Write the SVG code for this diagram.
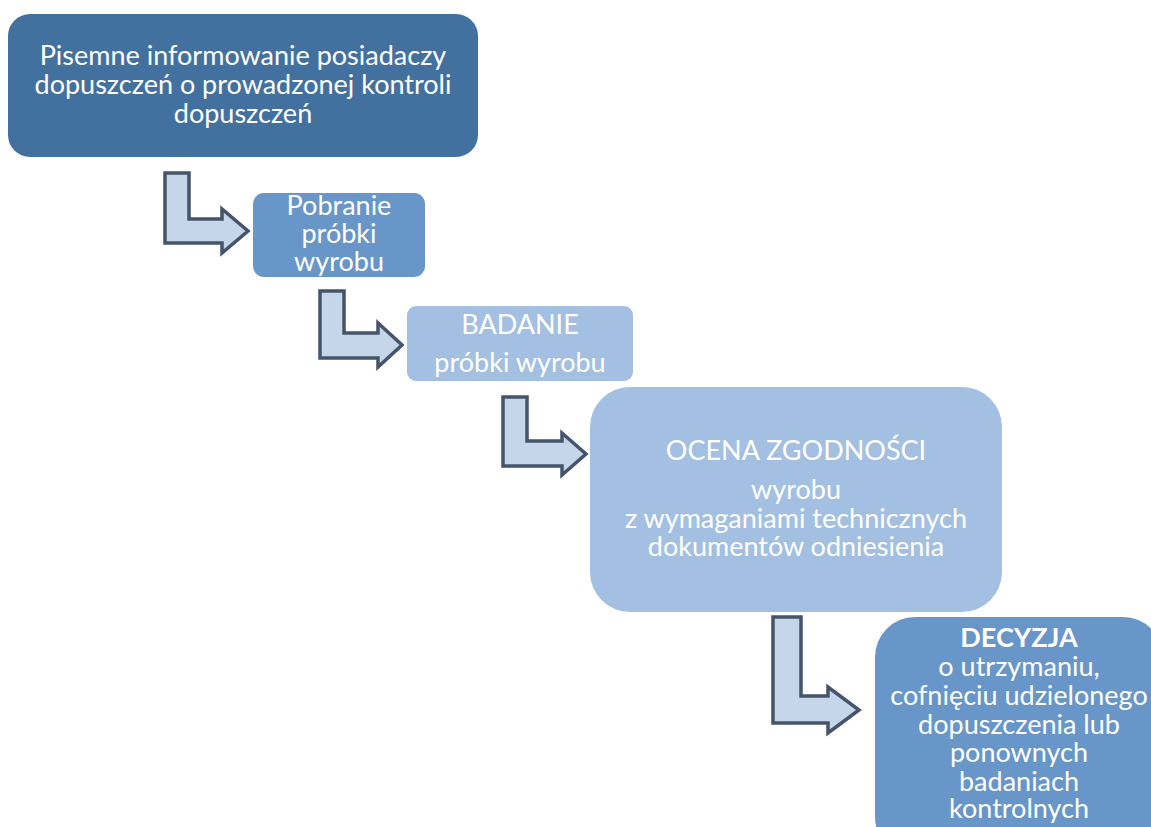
<svg xmlns="http://www.w3.org/2000/svg" width="1151" height="827" viewBox="0 0 1151 827">
<style>
.t{font-family:Lato,"Open Sans","Liberation Sans",sans-serif;font-size:27px;fill:#ffffff;text-anchor:middle}
.b{font-weight:bold}
.arr{fill:#C5D5EA;stroke:#44546A;stroke-width:3.5;stroke-linejoin:miter}
</style>
<rect width="1151" height="827" fill="#ffffff"/>
<g id="connectors">
<path class="arr" d="M165,173 H189 V219 H222 V209 L248,231 L222,253 V243 H165 Z"/>
<path class="arr" d="M320,291 H344 V333 H378 V323 L402,345 L378,367 V358 H320 Z"/>
<path class="arr" d="M503,397 H527 V441 H562 V433 L586,454 L562,475 V466 H503 Z"/>
<path class="arr" d="M773,617 H801 V696 H828 V687 L859,710 L828,733 V723 H773 Z"/>
</g>
<g id="node1">
<rect x="8" y="14" width="470" height="143" rx="22" fill="#43719F"/>
<text class="t" x="243" y="65">Pisemne informowanie posiadaczy</text>
<text class="t" x="243" y="94">dopuszczeń o prowadzonej kontroli</text>
<text class="t" x="243" y="123">dopuszczeń</text>
</g>
<g id="node2">
<rect x="253" y="193" width="172" height="84" rx="11" fill="#6996C8"/>
<text class="t" x="339" y="215">Pobranie</text>
<text class="t" x="339" y="243">próbki</text>
<text class="t" x="339" y="271">wyrobu</text>
</g>
<g id="node3">
<rect x="407" y="306" width="226" height="75" rx="9" fill="#A3BFE1"/>
<text class="t" x="520" y="334">BADANIE</text>
<text class="t" x="520" y="372">próbki wyrobu</text>
</g>
<g id="node4">
<rect x="590" y="387" width="412" height="225" rx="40" fill="#A3BFE1"/>
<text class="t" x="796" y="460">OCENA ZGODNOŚCI</text>
<text class="t" x="796" y="499">wyrobu</text>
<text class="t" x="796" y="528">z wymaganiami technicznych</text>
<text class="t" x="796" y="556">dokumentów odniesienia</text>
</g>
<g id="node5">
<rect x="875" y="617" width="288" height="240" rx="40" fill="#6996C8"/>
<text class="t b" x="1019" y="647">DECYZJA</text>
<text class="t" x="1019" y="676">o utrzymaniu,</text>
<text class="t" x="1019" y="705">cofnięciu udzielonego</text>
<text class="t" x="1019" y="734">dopuszczenia lub</text>
<text class="t" x="1019" y="762">ponownych</text>
<text class="t" x="1019" y="791">badaniach</text>
<text class="t" x="1019" y="818">kontrolnych</text>
</g>
</svg>
